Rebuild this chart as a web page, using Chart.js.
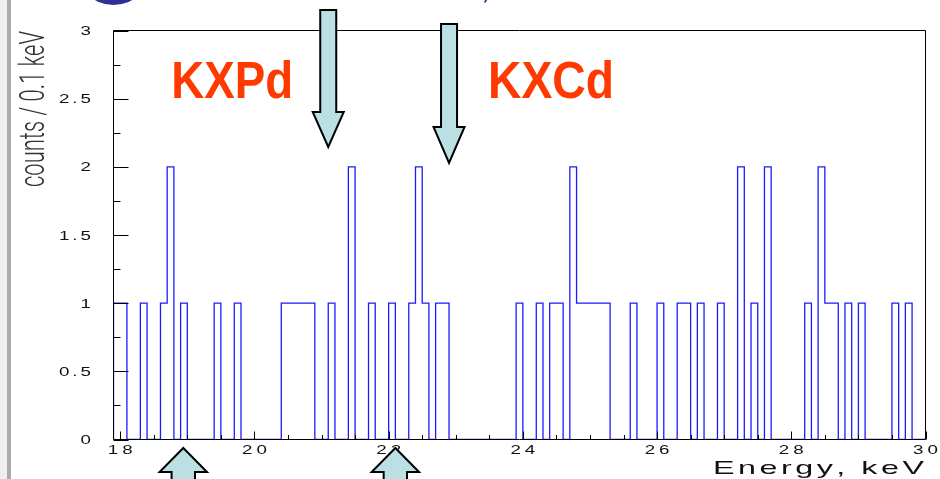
<!DOCTYPE html>
<html><head><meta charset="utf-8">
<script src="https://cdn.jsdelivr.net/npm/chart.js@4.4.1/dist/chart.umd.min.js"></script>
<style>html,body{margin:0;padding:0;background:#fff;overflow:hidden}canvas{display:block}</style>
</head><body>
<canvas id="c" width="940" height="479" style="width:940px;height:479px"></canvas>
<script>
// ---- data ----
const binLowEdge = 17.9;     // keV, low edge of first bin
const binWidth = 0.1;        // keV
const counts = [
  1,1,0,0,1,0,0,1,2,0,   // 17.9 - 18.8
  1,0,0,0,0,1,0,0,1,0,   // 18.9 - 19.8
  0,0,0,0,0,1,1,1,1,1,   // 19.9 - 20.8
  0,0,1,0,0,2,0,0,1,0,   // 20.9 - 21.8
  0,1,0,0,1,2,1,0,1,1,   // 21.9 - 22.8
  0,0,0,0,0,0,0,0,0,0,   // 22.9 - 23.8
  1,0,0,1,0,1,1,0,2,1,   // 23.9 - 24.8
  1,1,1,1,0,0,0,1,0,0,   // 24.9 - 25.8
  0,1,0,0,1,1,0,1,0,0,   // 25.9 - 26.8
  1,0,0,2,0,1,0,2,0,0,   // 26.9 - 27.8
  0,0,0,1,0,2,1,1,0,1,   // 27.9 - 28.8
  0,1,0,0,0,0,1,0,1,0,   // 28.9 - 29.8
  0                      // 29.9
];
const xTickLabels = [18,20,22,24,26,28,30];
const yTickLabels = [0,0.5,1,1.5,2,2.5,3];
const xTitle = 'Energy, keV';
const yTitle = 'counts / 0.1 keV';
const peakLabels = ['KXPd','KXCd'];
const peakLabelKeV = [18.76, 23.48];
const downArrowKeV = [21.1, 22.9];
const upArrowKeV = [18.94, 22.1];

// ---- build histogram outline points ----
const pts = [{x: binLowEdge, y: 0}];
counts.forEach((c, i) => pts.push({x: +(binLowEdge + i * binWidth).toFixed(2), y: c}));
pts.push({x: +(binLowEdge + counts.length * binWidth).toFixed(2), y: 0});

function drawSpaced(ctx, text, x, y, font, gs, spacing, align, color) {
  ctx.save();
  ctx.font = font; ctx.fillStyle = color; ctx.textBaseline = 'alphabetic'; ctx.textAlign = 'left';
  const ws = [...text].map(ch => ctx.measureText(ch).width * gs);
  const total = ws.reduce((a, b) => a + b, 0) + spacing * (ws.length - 1);
  let cx = align === 'right' ? x - total : align === 'center' ? x - total / 2 : x;
  [...text].forEach((ch, i) => {
    ctx.save(); ctx.translate(cx, y); ctx.scale(gs, 1); ctx.fillText(ch, 0, 0); ctx.restore();
    cx += ws[i] + spacing;
  });
  ctx.restore();
}
function fitSpacing(ctx, text, font, gs, target) {
  ctx.save(); ctx.font = font;
  const w = [...text].reduce((a, ch) => a + ctx.measureText(ch).width * gs, 0);
  ctx.restore();
  return (target - w) / (text.length - 1);
}
function drawFit(ctx, text, x, y, font, width, color) {
  ctx.save(); ctx.font = font; ctx.fillStyle = color; ctx.textAlign = 'left'; ctx.textBaseline = 'alphabetic';
  const w = ctx.measureText(text).width;
  ctx.translate(x, y); ctx.scale(width / w, 1); ctx.fillText(text, 0, 0);
  ctx.restore();
}
function arrowPath(ctx, x, yBase, yHead, yTip, sh, hh) {
  ctx.beginPath();
  ctx.moveTo(x - sh, yBase); ctx.lineTo(x + sh, yBase); ctx.lineTo(x + sh, yHead);
  ctx.lineTo(x + hh, yHead); ctx.lineTo(x, yTip); ctx.lineTo(x - hh, yHead);
  ctx.lineTo(x - sh, yHead); ctx.closePath();
  ctx.fillStyle = '#bbe0e3'; ctx.fill();
  ctx.lineWidth = 2; ctx.strokeStyle = '#000'; ctx.lineJoin = 'miter'; ctx.stroke();
}

const decor = {
  id: 'decor',
  beforeDraw(chart) {
    const ctx = chart.ctx;
    ctx.save(); ctx.fillStyle = '#fff'; ctx.fillRect(0, 0, chart.width, chart.height); ctx.restore();
  },
  afterDraw(chart) {
    const ctx = chart.ctx, a = chart.chartArea, xs = chart.scales.x, ys = chart.scales.y;
    ctx.save();
    // frame
    ctx.strokeStyle = '#000'; ctx.lineWidth = 1;
    ctx.beginPath();
    ctx.moveTo(a.left, a.top); ctx.lineTo(a.right, a.top); ctx.lineTo(a.right, a.bottom);
    ctx.lineTo(a.left, a.bottom); ctx.closePath(); ctx.stroke();
    // y ticks (inward)
    for (let v = 0; v <= 3.0001; v += 0.25) {
      const py = Math.round(ys.getPixelForValue(v)) + 0.5;
      const major = Math.abs(v * 2 - Math.round(v * 2)) < 1e-6;
      ctx.beginPath(); ctx.moveTo(a.left, py); ctx.lineTo(a.left + (major ? 15 : 7), py); ctx.stroke();
    }
    // x ticks (inward)
    for (let v = 18; v <= 30.0001; v += 0.5) {
      const px = Math.round(xs.getPixelForValue(v)) + 0.5;
      const major = Math.abs(v / 2 - Math.round(v / 2)) < 1e-6;
      ctx.beginPath(); ctx.moveTo(px, a.bottom); ctx.lineTo(px, a.bottom - (major ? 8 : 4.5)); ctx.stroke();
    }
    // tick labels
    const tf = '12.5px "Liberation Sans", Arial, sans-serif';
    yTickLabels.forEach(v => {
      drawSpaced(ctx, String(v), 91, ys.getPixelForValue(v) + 4.5, tf, 1.5, 3, 'right', '#111');
    });
    xTickLabels.forEach(v => {
      drawSpaced(ctx, String(v), xs.getPixelForValue(v), 454, tf, 1.5, 4, 'center', '#111');
    });
    // axis titles
    const xf = '19px "Liberation Sans", Arial, sans-serif';
    const sp = fitSpacing(ctx, xTitle, xf, 1.7, 211);
    drawSpaced(ctx, xTitle, 924, 474, xf, 1.7, sp, 'right', '#111');
    ctx.save();
    ctx.translate(44, 187); ctx.rotate(-Math.PI / 2);
    drawFit(ctx, yTitle, 0, 0, '300 35px Roboto, "Liberation Sans", sans-serif', 156, '#333');
    ctx.restore();
    // peak labels
    peakLabels.forEach((t, i) => {
      drawFit(ctx, t, xs.getPixelForValue(peakLabelKeV[i]), 98, 'bold 51px "Liberation Sans", Arial, sans-serif', i === 0 ? 122 : 126, '#ff3a00');
    });
    // arrows
    const dTop = [10, 24], dHead = [112, 127], dTip = [147, 163];
    downArrowKeV.forEach((k, i) => arrowPath(ctx, xs.getPixelForValue(k), dTop[i], dHead[i], dTip[i], 8, 15.5));
    upArrowKeV.forEach(k => arrowPath(ctx, xs.getPixelForValue(k), 492, 472, 448, 11.7, 23.7));
    // page decorations (cropped slide elements)
    ctx.fillStyle = '#efefef'; ctx.fillRect(0, 0, 7, chart.height);
    ctx.fillStyle = '#ababab'; ctx.fillRect(7, 0, 4, chart.height);
    ctx.fillStyle = '#2e3192';
    ctx.beginPath(); ctx.arc(113.5, -32, 37, 0, Math.PI * 2); ctx.fill();
    ctx.font = 'bold 24px "Liberation Sans", Arial, sans-serif';
    ctx.fillText(',', 482, -1);
    ctx.restore();
  }
};

new Chart(document.getElementById('c').getContext('2d'), {
  type: 'line',
  data: { datasets: [{
    data: pts, stepped: 'before', borderColor: '#1a1aff', borderWidth: 1.3,
    pointRadius: 0, pointHoverRadius: 0, fill: false, tension: 0
  }]},
  options: {
    responsive: false, animation: false, devicePixelRatio: 1,
    layout: { padding: { left: 113.5, right: 14.5, top: 30.5, bottom: 39.5 } },
    plugins: { legend: { display: false }, tooltip: { enabled: false } },
    events: [],
    scales: {
      x: { type: 'linear', min: binLowEdge, max: 30, display: false },
      y: { type: 'linear', min: 0, max: 3, display: false }
    }
  },
  plugins: [decor]
});
</script>
</body></html>
